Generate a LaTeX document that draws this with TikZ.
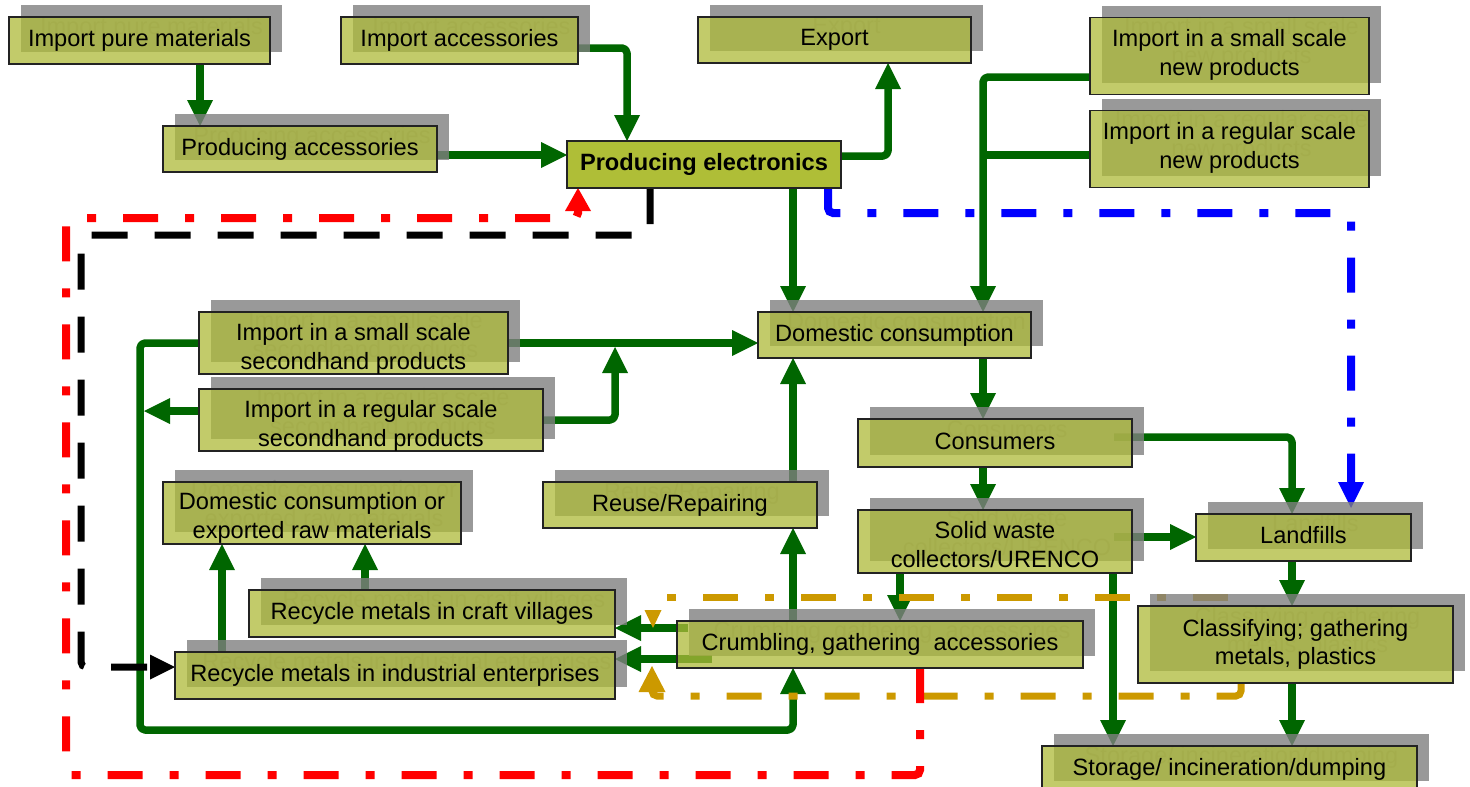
\documentclass[tikz,border=0pt]{standalone}
\usepackage{fontspec}
\setmainfont{Liberation Sans}
\usetikzlibrary{arrows.meta}
\pgfdeclarelayer{lines}
\pgfsetlayers{lines,main}

\definecolor{flowgreen}{RGB}{0,102,0}
\definecolor{boxfill}{RGB}{174,186,58}
\definecolor{keyfill}{RGB}{175,190,55}
\definecolor{shadowgray}{RGB}{128,128,128}
\definecolor{boxedge}{RGB}{35,35,35}
\definecolor{goldline}{RGB}{204,153,0}
\newcommand\boxfont{\fontsize{23.6}{28.5}\selectfont}

\tikzset{
  shadowrect/.style={fill=shadowgray, fill opacity=0.8, draw=none, inner sep=0pt, outer sep=0pt},
  ghosttext/.style={text=black, text opacity=0.12, align=center, inner sep=0pt, font=\boxfont},
  boxtext/.style={text=black, align=center, inner sep=0pt, font=\boxfont},
  flowbox/.style={draw=boxedge, line width=1.3pt, fill=boxfill, fill opacity=0.755,
    inner sep=0pt, outer sep=0pt},
  keybox/.style={draw=boxedge, line width=1.3pt, fill=keyfill, align=center,
    inner sep=0pt, outer sep=0pt, font=\boxfont\bfseries},
  flowplain/.style={draw=flowgreen, line width=7.5pt, rounded corners=5pt, line join=round},
  flow/.style={flowplain, -{Triangle[length=26pt,width=26pt,line width=0pt]}},
  redpath/.style={draw=red, line width=8pt, rounded corners=5pt,
    dash pattern=on 35pt off 27pt on 9pt off 27pt,
    -{Triangle[length=23pt,width=26pt,line width=0pt]}},
  bluepath/.style={draw=blue, line width=8pt, rounded corners=5pt,
    dash pattern=on 35pt off 27pt on 9pt off 27pt,
    -{Triangle[length=26pt,width=26pt,line width=0pt]}},
  blackpath/.style={draw=black, line width=7pt, rounded corners=5pt,
    dash pattern=on 36pt off 27pt,
    -{Triangle[length=25pt,width=25pt,line width=0pt]}},
  goldpath/.style={draw=goldline, line width=7pt, rounded corners=5pt,
    dash pattern=on 35pt off 27pt on 9pt off 27pt},
}

% box with a grey drop shadow (offset up-right) and its shadowed label;
% optional first argument moves the label down inside the box
\newcommand\flowrect[7][0]{%
  \node[shadowrect, minimum width=#5pt, minimum height=#6pt] at (#3+12,#4-12) {};
  \node[ghosttext] at (#3+12,#4-12+#1) {#7};
  \node[flowbox, minimum width=#5pt, minimum height=#6pt] (#2) at (#3,#4) {};
  \node[boxtext] at (#3,#4+#1) {#7};
}

\begin{document}
\begin{tikzpicture}[x=1pt,y=-1pt]
\useasboundingbox (0,0) rectangle (1470,787);

% ---- boxes ----
\flowrect{ipm}{139.5}{40.5}{261}{47}{Import pure materials}
\flowrect{ia}{459.5}{40.5}{237}{47}{Import accessories}
\flowrect{ex}{834.5}{40}{273}{46}{Export}
\flowrect[-1]{isn}{1229.5}{56}{279}{77}{Import in a small scale\\new products}
\flowrect{prac}{300}{149}{274}{46}{Producing accessories}
\flowrect[-1]{irn}{1229.5}{149}{279}{77}{Import in a regular scale\\new products}
\node[keybox, minimum width=274pt, minimum height=47pt] (pe) at (704,164.5) {Producing electronics};
\flowrect[6]{iss}{353.5}{343}{309}{62}{Import in a small scale\\secondhand products}
\flowrect[6]{irs}{371}{420}{344}{62}{Import in a regular scale\\secondhand products}
\flowrect{dc}{894.5}{335}{273}{46}{Domestic consumption}
\flowrect[5]{dcr}{312}{513}{298}{62}{Domestic consumption or\\exported raw materials}
\flowrect{ru}{680}{505}{274}{46}{Reuse/Repairing}
\flowrect[-2]{con}{995}{443}{274}{48}{Consumers}
\flowrect[3]{sw}{995}{541.5}{274}{63}{Solid waste\\collectors/URENCO}
\flowrect[-2]{lf}{1303.5}{537.5}{215}{47}{Landfills}
\flowrect{cl}{1295.5}{644.5}{315}{77}{Classifying; gathering\\metals, plastics}
\flowrect{rcv}{432}{613.5}{366}{47}{Recycle metals in craft villages}
\flowrect{rie}{395}{675.5}{440}{47}{Recycle metals in industrial enterprises}
\flowrect{cg}{880}{644.5}{406}{47}{Crumbling, gathering~ accessories}
\flowrect{st}{1229.5}{769.5}{375}{47}{Storage/ incineration/dumping}

% start points of connectors that begin inside a box
\coordinate (conout) at ([xshift=-18pt]con.east);
\coordinate (swout) at ([xshift=-18pt]sw.east);
\coordinate (cgl1) at ([xshift=11pt]cg.west);
\coordinate (cgl2) at ([xshift=35pt]cg.west);
% free ends of the dashed paths
\coordinate (blueend) at (1351,508);
\coordinate (goldA) at (1228,597);
\coordinate (goldB) at (653,628);
\coordinate (goldD) at (652,666);

\begin{pgfonlayer}{lines}
% ---- material flows ----
\draw[flow] (200,0 |- ipm.south) -- (200,0 |- prac.north);
\draw[flow] (ia.east |- 0,48) -- (627,48) -- (627,0 |- pe.north);
\draw[flow] (prac.east |- 0,155) -- (pe.west |- 0,155);
\draw[flow] (pe.east |- 0,156) -- (888,156) -- (888,0 |- ex.south);
\draw[flow] (793,0 |- pe.south) -- (793,0 |- dc.north);
\draw[flow] (isn.west |- 0,77) -- (983,77) -- (983,0 |- dc.north);
\draw[flowplain] (irn.west |- 0,155) -- (983,155);
\draw[flow] (iss.east |- 0,343) -- (dc.west |- 0,343);
\draw[flow] (irs.east |- 0,420) -- (615,420) -- (615,347);
\draw[flow] (iss.west |- 0,343) -- (140,343) -- (140,730) -- (793,730) -- (793,0 |- cg.south);
\draw[flow] (irs.west |- 0,411) -- (144,411);
\draw[flow] (793,0 |- ru.north) -- (793,0 |- dc.south);
\draw[flow] (793,0 |- cg.north) -- (793,0 |- ru.south);
\draw[flow] (983,0 |- dc.south) -- (983,0 |- con.north);
\draw[flow] (983,0 |- con.south) -- (983,0 |- sw.north);
\draw[flow] (conout |- 0,437) -- (1292,437) -- (1292,0 |- lf.north);
\draw[flow] (swout |- 0,537) -- (lf.west |- 0,537);
\draw[flow] (1292,0 |- lf.south) -- (1292,0 |- cl.north);
\draw[flow] (900,0 |- sw.south) -- (900,0 |- cg.north);
\draw[flow] (1113,0 |- sw.south) -- (1113,0 |- st.north);
\draw[flow] (1292,0 |- cl.south) -- (1292,0 |- st.north);
\draw[flow] (cgl1 |- 0,628) -- (rcv.east |- 0,628);
\draw[flow] (cgl2 |- 0,659) -- (rie.east |- 0,659);
\draw[flow] (222,0 |- rie.north) -- (222,0 |- dcr.south);
\draw[flow] (365,0 |- rcv.north) -- (365,0 |- dcr.south);

% ---- return and disposal routes ----
\draw[goldpath, -{Triangle[length=18pt,width=17pt,line width=0pt]}]
  (goldA) -- (653,597) -- (goldB);
\draw[goldpath, -{Triangle[length=26pt,width=27pt,line width=0pt]}]
  (1241,0 |- cl.south) -- (1241,696) -- (652,696) -- (goldD);
\draw[redpath] (920,0 |- cg.south) -- (920,775) -- (66,775) -- (66,218) -- (578,218) -- (578,0 |- pe.south);
\draw[blackpath] (650,0 |- pe.south) -- (650,235) -- (81,235) -- (81,667) -- (rie.west |- 0,667);
\draw[bluepath] (828,0 |- pe.south) -- (828,213) -- (1351,213) -- (blueend);
\end{pgfonlayer}
\end{tikzpicture}
\end{document}
